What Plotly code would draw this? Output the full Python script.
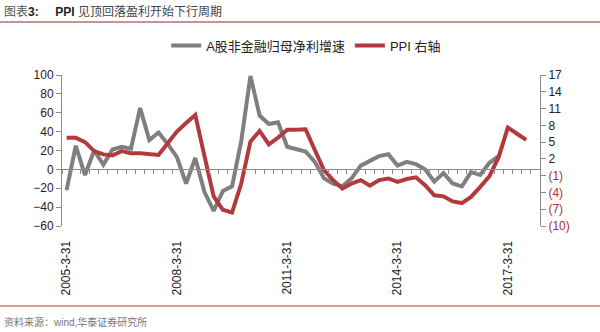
import plotly.graph_objects as go

# ---- data ----
quarters = [f"{y}-{m}-{d}" for y in range(2005, 2018)
            for m, d in ((3, 31), (6, 30), (9, 30), (12, 31))]

profit_growth = [-22, 25, -6, 20, 5, 21, 24, 22, 65, 31, 39, 27,
                 13, -15, 12, -24, -44, -23, -18, 30, 99, 57, 48, 50,
                 24, 22, 19, 8, -9.5, -15, -18, -9.5, 4, 9, 14, 16,
                 4, 8, 5.5, 0, -13, -4, -15, -18, -3, -6, 7, 14]

ppi = [5.8, 5.8, 5.0, 3.4, 2.8, 2.6, 3.4, 3.0, 3.0, 2.8, 2.7, 4.8,
       6.9, 8.4, 9.85, 2.5, -4.7, -7.1, -7.6, -2.4, 5.1, 7.0, 4.6, 5.8,
       7.2, 7.2, 7.3, 3.6, 0.0, -1.8, -3.3, -2.4, -1.8, -2.8, -1.8, -1.5,
       -2.1, -1.6, -1.3, -2.7, -4.5, -4.7, -5.6, -5.9, -4.8, -3.0, -1.1, 2.3,
       7.6, 6.5, 5.4]

left_ticks = [100, 80, 60, 40, 20, 0, -20, -40, -60]
right_ticks = [17, 14, 11, 8, 5, 2, -1, -4, -7, -10]
x_labels = ["2005-3-31", "2008-3-31", "2011-3-31", "2014-3-31", "2017-3-31"]

series_names = ["A股非金融归母净利增速", "PPI 右轴"]

# ---- styles ----
GREY = "#7f7f7f"
RED = "#b23a3e"
RED_TXT = "#a83232"
AXIS = "#8c8c8c"
FONT = "Liberation Sans, Arial, Noto Sans CJK SC, sans-serif"

fig = go.Figure()
fig.add_trace(go.Scatter(x=quarters[:len(profit_growth)], y=profit_growth,
                         name=series_names[0], mode="lines",
                         line=dict(color=GREY, width=4), yaxis="y"))
fig.add_trace(go.Scatter(x=quarters[:len(ppi)], y=ppi,
                         name=series_names[1], mode="lines",
                         line=dict(color=RED, width=4), yaxis="y2"))
# helper trace for the zero-crossing category axis
fig.add_trace(go.Scatter(x=quarters, y=[None] * len(quarters), xaxis="x2",
                         yaxis="y", showlegend=False, hoverinfo="skip",
                         mode="lines"))

right_text = [str(v) if v >= 0 else
              f'<span style="color:{RED_TXT}">({abs(v)})</span>'
              for v in right_ticks]

zero_pos = (0 - left_ticks[-1]) / (left_ticks[0] - left_ticks[-1])

fig.update_layout(
    width=600, height=332,
    margin=dict(l=62, r=60, t=75, b=106),
    paper_bgcolor="white", plot_bgcolor="white",
    font=dict(family=FONT, size=12, color="#222"),
    showlegend=True,
    legend=dict(orientation="h", x=0.218, xanchor="left", y=1.195,
                yanchor="middle", font=dict(size=13, color="#222"),
                itemwidth=30, tracegroupgap=0, bgcolor="rgba(0,0,0,0)"),
    xaxis=dict(type="category", categoryorder="array", categoryarray=quarters,
               range=[-0.5, len(quarters) - 0.5],
               tickmode="array", tickvals=x_labels, ticktext=x_labels,
               tickangle=-90, ticks="outside", ticklen=9,
               tickcolor="rgba(0,0,0,0)", showline=False, showgrid=False,
               zeroline=False, tickfont=dict(size=12, color="#222")),
    xaxis2=dict(type="category", categoryorder="array", categoryarray=quarters,
                range=[-0.5, len(quarters) - 0.5], overlaying="x",
                anchor="free", position=zero_pos, side="bottom",
                tickson="boundaries", dtick=1, ticks="outside", ticklen=4,
                tickcolor=AXIS, showticklabels=False, showline=True,
                linecolor=AXIS, linewidth=1, showgrid=False, zeroline=False),
    yaxis=dict(range=[left_ticks[-1], left_ticks[0]], tickvals=left_ticks,
               ticks="outside", ticklen=5, tickcolor=AXIS, showline=True,
               linecolor=AXIS, linewidth=1, showgrid=False, zeroline=False,
               tickfont=dict(size=12, color="#222")),
    yaxis2=dict(range=[right_ticks[-1], right_ticks[0]], tickvals=right_ticks,
                ticktext=right_text, overlaying="y", side="right",
                ticks="outside", ticklen=5, tickcolor=AXIS, showline=True,
                linecolor=AXIS, linewidth=1, showgrid=False, zeroline=False,
                tickfont=dict(size=12, color="#222")),
)

# title, rules and source note
fig.add_annotation(xref="paper", yref="paper", x=-60 / 478, y=1 + (75 - 12) / 151,
                   xanchor="left", yanchor="middle", showarrow=False,
                   text='<span style="color:#555">图表</span><b>3:</b>'
                        '&nbsp;&nbsp;&nbsp;&nbsp;&nbsp;<b>PPI</b> '
                        '<span style="color:#444">见顶回落盈利开始下行周期</span>',
                   font=dict(size=12, color="#222", family=FONT))
fig.add_shape(type="line", xref="paper", yref="paper",
              x0=-62 / 478, x1=(600 - 62) / 478,
              y0=1 + (75 - 22) / 151, y1=1 + (75 - 22) / 151,
              line=dict(color="#8b2a2a", width=1.2))
fig.add_shape(type="line", xref="paper", yref="paper",
              x0=-62 / 478, x1=(600 - 62) / 478,
              y0=-(306 - 226) / 151, y1=-(306 - 226) / 151,
              line=dict(color="#c0392b", width=1.2))
fig.add_annotation(xref="paper", yref="paper", x=-60 / 478, y=-(322 - 226) / 151,
                   xanchor="left", yanchor="middle", showarrow=False,
                   text="资料来源：wind,华泰证券研究所",
                   font=dict(size=10, color="#777", family=FONT))

fig.write_html("out.html")
